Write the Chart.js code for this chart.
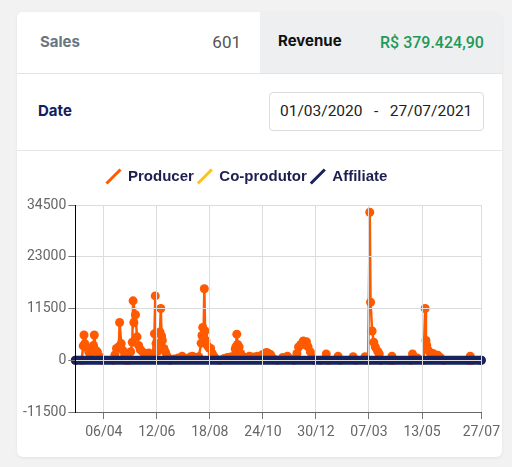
<!DOCTYPE html>
<html>
<head>
<meta charset="utf-8">
<script src="https://cdn.jsdelivr.net/npm/chart.js@4.4.1/dist/chart.umd.min.js"></script>
<style>
  body { margin: 0; width: 512px; height: 467px; background: #f2f2f2; overflow: hidden; font-family: Inter, Roboto, sans-serif; }
  .card { position: absolute; left: 17px; top: 12px; width: 485px; height: 445px; background: #fff; border-radius: 6px; box-shadow: 0 1px 3px rgba(0,0,0,0.07); overflow: hidden; }
  .tab-sales { position: absolute; left: 0; top: 0; width: 243px; height: 61px; background: #fff; border-bottom: 1px solid #e4e4e4; }
  .tab-rev { position: absolute; left: 243px; top: 0; width: 242px; height: 61px; background: #eeeff1; border-bottom: 1px solid #e4e4e4; }
  .lbl { position: absolute; height: 20px; line-height: 20px; white-space: nowrap; }
  .date-row { position: absolute; left: 0; top: 62px; width: 485px; height: 76px; border-bottom: 1px solid #e6e6e6; }
  .date-box { position: absolute; left: 252px; top: 18px; width: 213px; height: 37px; border: 1px solid #dcdcdc; border-radius: 4px; font-family: Roboto, sans-serif; font-size: 15.5px; color: #222; line-height: 37px; text-indent: 10px; white-space: pre; }
  #wrap { position: absolute; left: 0; top: 150px; width: 505px; height: 307px; }
</style>
</head>
<body>
<div class="card">
  <div class="tab-sales">
    <div class="lbl" style="left:23px; top:20px; font-size:15px; font-weight:700; color:#6b7580;">Sales</div>
    <div class="lbl" style="right:19px; top:20px; font-family:Roboto, sans-serif; font-size:17px; color:#555;">601</div>
  </div>
  <div class="tab-rev">
    <div class="lbl" style="left:18px; top:19px; font-size:15px; font-weight:700; color:#111;">Revenue</div>
    <div class="lbl" style="left:120px; top:21px; font-family:Roboto, sans-serif; font-size:16px; font-weight:500; color:#1f9a58;">R$ 379.424,90</div>
  </div>
  <div class="date-row">
    <div class="lbl" style="left:21px; top:27px; font-size:15px; font-weight:700; color:#15205a;">Date</div>
    <div class="date-box">01/03/2020   -   27/07/2021</div>
  </div>
</div>
<div id="wrap"><canvas id="salesChart"></canvas></div>
<script>
// dias contados a partir de 01/03/2020
const producerDays = [0, 8, 10, 11, 12, 14, 17, 19, 22, 23, 24, 26, 28, 31, 33,
  48, 50, 52, 55, 56, 58, 60, 62, 64,
  68, 70, 72, 73, 74, 76, 78, 80, 82, 85, 88, 91, 93, 95, 98,
  100, 101, 102, 104, 106, 107, 108, 109, 110, 112, 114, 116, 118, 120,
  125, 130, 135, 140, 145, 148, 152, 156,
  159, 160, 161, 162, 163, 164, 165, 167, 169, 171, 173, 175, 178, 182,
  188, 192, 196, 200, 202, 203, 204, 205, 206, 207, 209, 212, 216, 220, 225, 230, 236, 240, 242, 244, 247, 250, 255,
  262, 268, 272, 276,
  280, 282, 285, 288, 290, 292, 294, 297, 299, 301,
  310, 317, 320, 332, 335, 351, 354, 366, 370,
  372, 373, 375, 377, 379, 382, 384, 386,
  398, 400, 402, 424, 426, 428, 432, 440,
  442, 443, 444, 446, 448, 452, 455, 458, 461, 465,
  497, 499, 501, 513];
const producerValues = [0, 0, 3200, 5600, 3700, 2950, 1850, 900, 2000, 3300, 5600, 2200, 1850, 800, 0,
  0, 1200, 2600, 3000, 8400, 3700, 2200, 800, 0,
  0, 1900, 4000, 13200, 8400, 10100, 5200, 3300, 2400, 1850, 700, 1500, 1600, 900, 1200,
  5900, 14300, 3700, 2000, 3400, 6300, 11500, 5400, 4400, 2600, 1800, 900, 400, 0,
  300, 500, 900, 400, 700, 900, 600, 800,
  3800, 5500, 7300, 5500, 15900, 6500, 4400, 3200, 2700, 2600, 1500, 900, 300, 0,
  400, 600, 700, 900, 2500, 3000, 5800, 3500, 2900, 2950, 1500, 800, 600, 900, 700, 900, 1200, 1600, 1700, 1500, 1200, 400, 0,
  600, 900, 300, 0,
  1500, 2950, 3500, 4300, 3500, 4100, 3000, 1850, 600, 0,
  0, 1400, 0, 900, 0, 800, 0, 800, 0,
  32900, 12900, 6500, 4000, 2950, 2000, 1400, 0,
  0, 900, 0, 0, 1400, 600, 500, 0,
  11500, 4400, 3300, 2200, 1700, 1500, 1100, 1100, 600, 0,
  0, 900, 0, 0];
const coproducerDays = [0, 513];
const coproducerValues = [0, 0];
const affiliateDays = [0, 513];
const affiliateValues = [0, 0];

const tickDays = [36, 103, 170, 237, 304, 371, 438, 513];
const tickLabels = ['06/04', '12/06', '18/08', '24/10', '30/12', '07/03', '13/05', '27/07'];

const toPoints = (days, values) => days.map((d, i) => ({ x: d, y: values[i] }));

const ctx = document.getElementById('salesChart').getContext('2d');

new Chart(ctx, {
    type: 'line',
    data: {
        datasets: [
            {
                label: 'Producer',
                data: toPoints(producerDays, producerValues),
                borderColor: '#ff5a00',
                backgroundColor: '#ff5a00',
                borderWidth: 2.5,
                pointRadius: 4.5,
                pointBorderWidth: 0,
                order: 2,
                clip: false
            },
            {
                label: 'Co-produtor',
                data: toPoints(coproducerDays, coproducerValues),
                borderColor: '#ffc21a',
                backgroundColor: '#ffc21a',
                borderWidth: 3,
                pointRadius: 3,
                pointBorderWidth: 0,
                order: 1,
                clip: false
            },
            {
                label: 'Affiliate',
                data: toPoints(affiliateDays, affiliateValues),
                borderColor: '#17235e',
                backgroundColor: '#17235e',
                borderWidth: 9,
                pointRadius: 4.5,
                pointBorderWidth: 0,
                order: 0,
                clip: false
            }
        ]
    },
    options: {
        responsive: true,
        maintainAspectRatio: false,
        animation: false,
        layout: {
            padding: { left: 9.5, right: 20.7, top: 15, bottom: 14 }
        },
        scales: {
            x: {
                type: 'linear',
                min: 0,
                max: 513,
                afterBuildTicks: (scale) => {
                    scale.ticks = tickDays.map(v => ({ value: v }));
                },
                afterFit: (scale) => { scale.height = 31; },
                ticks: {
                    autoSkip: false,
                    maxRotation: 0,
                    padding: 5,
                    color: '#666',
                    font: { family: 'Roboto', size: 14 },
                    callback: (value) => tickLabels[tickDays.indexOf(value)]
                },
                grid: { color: '#dcdcdc', tickColor: '#777', tickLength: 7, z: 1 },
                border: { color: '#666', z: 1 }
            },
            y: {
                min: -11500,
                max: 34500,
                afterFit: (scale) => { scale.width = 65.8; },
                ticks: {
                    stepSize: 11500,
                    padding: 2,
                    color: '#666',
                    font: { family: 'Roboto', size: 14 },
                    callback: (value) => String(value)
                },
                grid: {
                    color: (c) => c.tick && c.tick.value === -11500 ? 'rgba(0,0,0,0)' : '#dcdcdc',
                    tickColor: '#777',
                    tickLength: 7,
                    z: 1
                },
                border: { color: '#000', z: 1 }
            }
        },
        plugins: {
            tooltip: { enabled: false },
            // espaço vazio entre a legenda e o gráfico
            title: {
                display: true,
                text: '',
                weight: 500,
                font: { size: 1 },
                padding: { top: 0, bottom: 9.8 }
            },
            legend: {
                position: 'top',
                labels: {
                    usePointStyle: true,
                    pointStyle: 'line',
                    boxWidth: 14,
                    boxHeight: 14,
                    padding: 4,
                    color: '#1c1f4f',
                    font: { family: 'Liberation Sans', size: 15, weight: 'bold' },
                    sort: (a, b) => a.datasetIndex - b.datasetIndex,
                    generateLabels: (chart) => Chart.defaults.plugins.legend.labels.generateLabels(chart)
                        .map(item => Object.assign(item, { lineWidth: 3, rotation: -45, pointStyle: 'line' }))
                }
            }
        }
    }
});
</script>
</body>
</html>
